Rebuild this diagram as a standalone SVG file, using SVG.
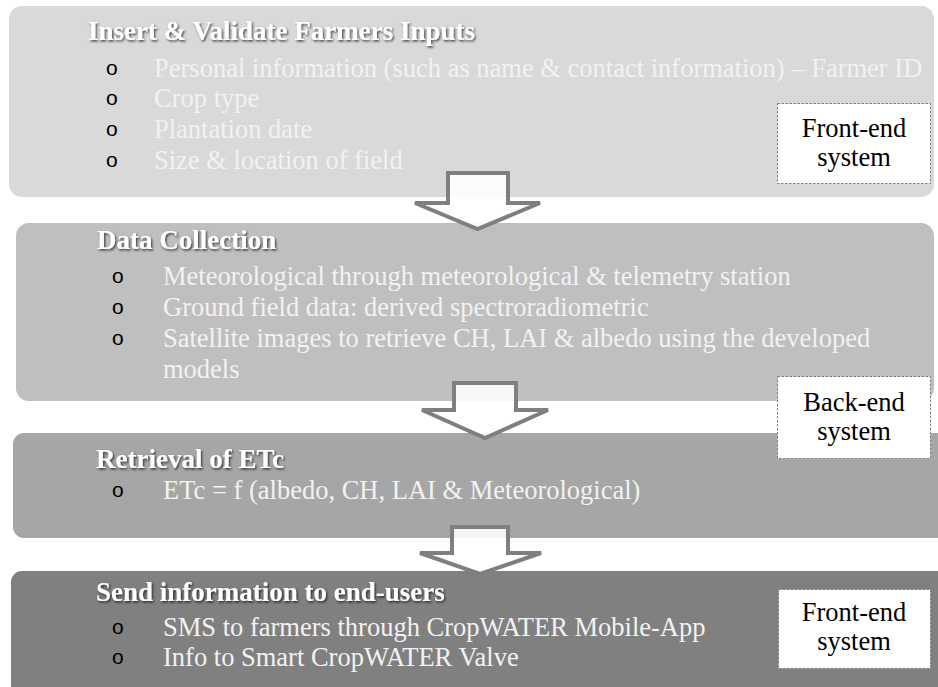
<svg xmlns="http://www.w3.org/2000/svg" width="938" height="687" viewBox="0 0 938 687">
  <defs>
    <filter id="titleShadow" x="-5%" y="-30%" width="110%" height="160%">
      <feDropShadow dx="1.2" dy="1.5" stdDeviation="0.9" flood-color="#000" flood-opacity="0.7"/>
    </filter>
  </defs>
  <style>
    text { font-family: "Liberation Serif", "Times New Roman", serif; font-size: 26.5px; }
    .title { font-weight: bold; font-size: 27px; fill: #ffffff; filter: url(#titleShadow); }
    .item { fill: #f2f2f2; }
    .bullet { font-family: "Liberation Sans", Arial, sans-serif; font-size: 21px; fill: #000; }
    .tag rect { fill: #ffffff; stroke: #808080; stroke-width: 1; stroke-dasharray: 2.5 1.5; }
    .tag text { fill: #000; text-anchor: middle; }
    .flow path { fill: #ffffff; fill-opacity: 0.88; stroke: #7f7f7f; stroke-width: 4; stroke-linejoin: miter; }
  </style>

  <rect width="938" height="687" fill="#ffffff"/>

  <!-- Step 1: farmer inputs -->
  <g id="step-inputs">
    <rect x="9" y="6" width="925" height="191" rx="13" fill="#d9d9d9"/>
    <text class="title" x="88" y="40">Insert &amp; Validate Farmers Inputs</text>
    <text class="bullet" x="106" y="75">o</text>
    <text class="item" x="154" y="77">Personal information (such as name &amp; contact information) – Farmer ID</text>
    <text class="bullet" x="106" y="105">o</text>
    <text class="item" x="154" y="107">Crop type</text>
    <text class="bullet" x="106" y="136">o</text>
    <text class="item" x="154" y="138">Plantation date</text>
    <text class="bullet" x="106" y="167">o</text>
    <text class="item" x="154" y="169">Size &amp; location of field</text>
  </g>

  <!-- Step 2: data collection -->
  <g id="step-collection">
    <rect x="16" y="223" width="918" height="178" rx="13" fill="#bfbfbf"/>
    <text class="title" x="97" y="249">Data Collection</text>
    <text class="bullet" x="112" y="283">o</text>
    <text class="item" x="163" y="285">Meteorological through meteorological &amp; telemetry station</text>
    <text class="bullet" x="112" y="314">o</text>
    <text class="item" x="163" y="316">Ground field data: derived spectroradiometric</text>
    <text class="bullet" x="112" y="345">o</text>
    <text class="item" x="163" y="347">Satellite images to retrieve CH, LAI &amp; albedo using the developed</text>
    <text class="item" x="163" y="378">models</text>
  </g>

  <!-- Step 3: ETc retrieval -->
  <g id="step-etc">
    <rect x="13" y="433" width="940" height="105" rx="11" fill="#a6a6a6"/>
    <text class="title" x="96" y="468">Retrieval of ETc</text>
    <text class="bullet" x="112" y="497">o</text>
    <text class="item" x="163" y="499">ETc = f (albedo, CH, LAI &amp; Meteorological)</text>
  </g>

  <!-- Step 4: delivery to end-users -->
  <g id="step-delivery">
    <rect x="11" y="571" width="942" height="130" rx="11" fill="#808080"/>
    <text class="title" x="96" y="601">Send information to end-users</text>
    <text class="bullet" x="112" y="634">o</text>
    <text class="item" x="163" y="636">SMS to farmers through CropWATER Mobile-App</text>
    <text class="bullet" x="112" y="664">o</text>
    <text class="item" x="163" y="666">Info to Smart CropWATER Valve</text>
  </g>

  <!-- Block arrows between steps -->
  <g id="connectors" class="flow">
    <path d="M448,173 H508 V203 H540 L477.5,229 L415,203 H448 Z"/>
    <path d="M454,383 H516 V410 H548 L485,438 L422,410 H454 Z"/>
    <path d="M452,527 H508 V553 H541 L480,574 L420,553 H452 Z"/>
  </g>

  <!-- System labels -->
  <g id="tag-frontend-top" class="tag">
    <rect x="777.5" y="103.5" width="153" height="80"/>
    <text x="854" y="137">Front-end</text>
    <text x="854" y="166">system</text>
  </g>
  <g id="tag-backend" class="tag">
    <rect x="777.5" y="376.5" width="153" height="82"/>
    <text x="854" y="411">Back-end</text>
    <text x="854" y="440">system</text>
  </g>
  <g id="tag-frontend-bottom" class="tag">
    <rect x="778.5" y="589.5" width="152" height="79"/>
    <text x="854" y="621">Front-end</text>
    <text x="854" y="650">system</text>
  </g>
</svg>
